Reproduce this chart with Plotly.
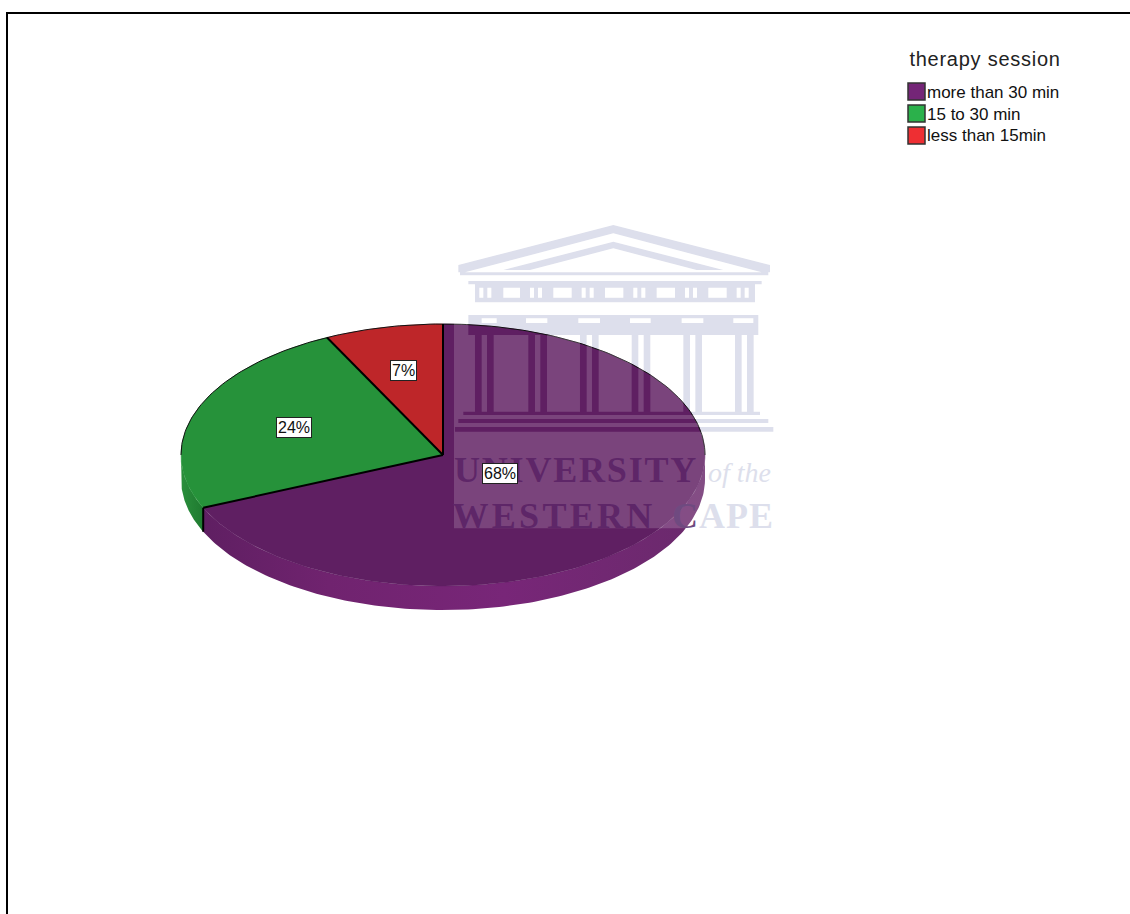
import numpy as np
import plotly.graph_objects as go

categories = ["more than 30 min", "15 to 30 min", "less than 15min"]
values = [68.4, 24.3, 7.3]
top_colors = ["#5F1F62", "#26923A", "#BE2629"]
legend_colors = ["#742577", "#2BB14B", "#EE2F33"]
legend_title = "therapy session"
W, H = 1130, 914
CX, CY, RX, RY, DEPTH = 443, 455, 262, 131, 24
d = DEPTH / RY

def fx(px): return px / W
def fy(py): return 1 - py / H

fig = go.Figure()
bounds = np.concatenate([[0], np.cumsum(values)]) / sum(values) * 2 * np.pi

def arc(t0, t1, n=160):
    t = np.linspace(t0, t1, n)
    return np.sin(t), np.cos(t)

def add_fill(x, y, color, **kw):
    fig.add_trace(go.Scatter(x=x, y=y, mode="lines", fill="toself", fillcolor=color,
                             line=dict(color=color, width=0.5), hoverinfo="skip",
                             showlegend=False, **kw))

# side wall
side_ranges = [(np.pi / 2, bounds[1]), (bounds[1], 1.5 * np.pi)]
side_fills = [
    dict(fillgradient=dict(type="horizontal",
                           colorscale=[[0, "#5F1F62"], [0.25, "#70236F"], [0.6, "#782678"], [1, "#6A2A6C"]])),
    dict(fillgradient=dict(type="horizontal",
                           colorscale=[[0, "#2A8F3C"], [1, "#1F7A30"]])),
]
side_base = ["#742577", "#27893A"]
for (a, b), extra, col in zip(side_ranges, side_fills, side_base):
    x, y = arc(a, b)
    xs = np.concatenate([x, x[::-1]])
    ys = np.concatenate([y, y[::-1] - d])
    fig.add_trace(go.Scatter(x=xs, y=ys, mode="lines", fill="toself", line=dict(width=0, color=col),
                             hoverinfo="skip", showlegend=False, **extra))

# top faces
for i, col in enumerate(top_colors):
    x, y = arc(bounds[i], bounds[i + 1])
    add_fill(np.concatenate([[0], x, [0]]), np.concatenate([[0], y, [0]]), col)

# outline of the back rim
x, y = arc(-np.pi / 2, np.pi / 2)
fig.add_trace(go.Scatter(x=x, y=y, mode="lines", line=dict(color="#111111", width=1),
                         hoverinfo="skip", showlegend=False))
# radial edges
for b in bounds[:-1]:
    fig.add_trace(go.Scatter(x=[0, np.sin(b)], y=[0, np.cos(b)], mode="lines",
                             line=dict(color="#000000", width=2), hoverinfo="skip", showlegend=False))
# front edge of slice boundary
b = bounds[1]
fig.add_trace(go.Scatter(x=[np.sin(b), np.sin(b)], y=[np.cos(b), np.cos(b) - d], mode="lines",
                         line=dict(color="#000000", width=2), hoverinfo="skip", showlegend=False))

# ---- watermark artwork (zoomed-crop coordinates -> page pixels) ----
def zx(v): return fx(v / 3 + 440)
def zy(v): return fy(v / 3 + 215)

def poly(pts):
    return "M" + " L".join(f"{zx(a):.5f},{zy(b):.5f}" for a, b in pts) + " Z"

def rect(x0, y0, x1, y1):
    return poly([(x0, y0), (x1, y0), (x1, y1), (x0, y1)])

parts = [
    poly([(520, 30), (990, 150), (990, 172), (965, 172), (520, 55), (75, 172), (55, 172), (55, 150)]),
    poly([(520, 80), (850, 165), (770, 165), (520, 100), (270, 165), (190, 165)]),
    rect(60, 172, 985, 181),
    rect(85, 198, 965, 208),
]
# frieze with windows
parts.append(rect(105, 208, 945, 262))
for a, b in [(190, 240), (340, 395), (495, 550), (650, 705), (805, 860)]:
    parts.append(rect(a, 218, b, 248))
for a in [118, 270, 425, 580, 735, 890]:
    parts.append(rect(a, 218, a + 12, 248))
    parts.append(rect(a + 24, 218, a + 36, 248))
# architrave
parts.append(rect(85, 300, 955, 360))
for a, b in [(125, 170), (258, 322), (415, 480), (570, 632), (725, 790), (880, 940)]:
    parts.append(rect(a, 310, b, 324))
# columns
for a in [105, 265, 420, 575, 730, 885]:
    parts.append(rect(a, 360, a + 20, 590))
    parts.append(rect(a + 36, 360, a + 56, 590))
# steps
parts.append(rect(70, 590, 960, 600))
parts.append(rect(55, 612, 985, 624))
parts.append(rect(45, 636, 1000, 650))
building = " ".join(parts)
LAV = "#DDDFEC"

shapes = [
    dict(type="path", xref="paper", yref="paper", path=building, fillcolor=LAV,
         fillrule="evenodd", line=dict(width=0), layer="below"),
    dict(type="path", xref="paper", yref="paper",
         path=rect(42, 0, 1000, 940) + " " + building,
         fillcolor="rgba(255,255,255,0.17)", fillrule="evenodd", line=dict(width=0), layer="above"),
    dict(type="rect", xref="paper", yref="paper", x0=fx(7), x1=fx(W + 10), y0=fy(H + 10), y1=fy(13),
         line=dict(color="#000000", width=2), fillcolor="rgba(0,0,0,0)", layer="above"),
]

annots = []
SERIF = "Liberation Serif"
DARK = "#5E2668"
for txt, x0, yc, col, size, italic in [
    ("UNIVERSITY", 461.5, 470, DARK, 36, False),
    ("WESTERN", 462.5, 516, DARK, 36, False),
    ('<span style="color:#6F4A80">C</span>APE', 673, 516, LAV, 36, False),
    ("of the", 707, 473, LAV, 28, True),
]:
    t = f"<i>{txt}</i>" if italic else f"<b>{txt}</b>"
    annots.append(dict(text=t, xref="paper", yref="paper", x=fx(x0), y=fy(yc), xanchor="left",
                       yanchor="middle", showarrow=False, borderpad=0,
                       font=dict(family=SERIF, size=size, color=col)))

# value labels on the slices
label_radius = [0.26, 0.605, 0.66]
for i, v in enumerate(values):
    mid = (bounds[i] + bounds[i + 1]) / 2
    annots.append(dict(text=f"{int(v)}%", x=label_radius[i] * np.sin(mid), y=label_radius[i] * np.cos(mid),
                       xref="x", yref="y", showarrow=False, bgcolor="#FFFFFF", bordercolor="#222222",
                       borderwidth=1, borderpad=1,
                       font=dict(family="Liberation Sans", size=16, color="#111111")))

# legend
annots.append(dict(text=legend_title, xref="paper", yref="paper", x=fx(914), y=fy(59), xanchor="left",
                   yanchor="middle", showarrow=False, borderpad=0,
                   font=dict(family="Liberation Sans", size=20, color="#222222")))
for cat, col, (y0, y1) in zip(categories, legend_colors, [(83, 100), (105, 122), (127, 144)]):
    shapes.append(dict(type="rect", xref="paper", yref="paper", x0=fx(908), x1=fx(925), y0=fy(y1), y1=fy(y0),
                       fillcolor=col, line=dict(color="#333333", width=1.5), layer="above"))
    annots.append(dict(text=cat, xref="paper", yref="paper", x=fx(926), y=fy((y0 + y1) / 2 + 0.5), xanchor="left",
                       yanchor="middle", showarrow=False, borderpad=0,
                       font=dict(family="Liberation Sans", size=17, color="#111111")))

fig.update_layout(
    width=W, height=H, margin=dict(l=0, r=0, t=0, b=0), autosize=False,
    paper_bgcolor="#FFFFFF", plot_bgcolor="rgba(0,0,0,0)", showlegend=False,
    xaxis=dict(visible=False, range=[-CX / RX, (W - CX) / RX], fixedrange=True),
    yaxis=dict(visible=False, range=[-(H - CY) / RY, CY / RY], fixedrange=True),
    shapes=shapes, annotations=annots,
)
spacing_js = """
document.body.style.margin='0';document.body.style.overflow='hidden';
var sp={'UNIVERSITY':'1.8px','WESTERN':'3.3px','CAPE':'1px','therapy session':'0.75px'};
document.querySelectorAll('.annotation-text').forEach(function(t){
  var s=sp[t.textContent]; if(s){t.style.letterSpacing=s;}
});
"""
fig.write_html("out.html", config=dict(displayModeBar=False), post_script=spacing_js)
